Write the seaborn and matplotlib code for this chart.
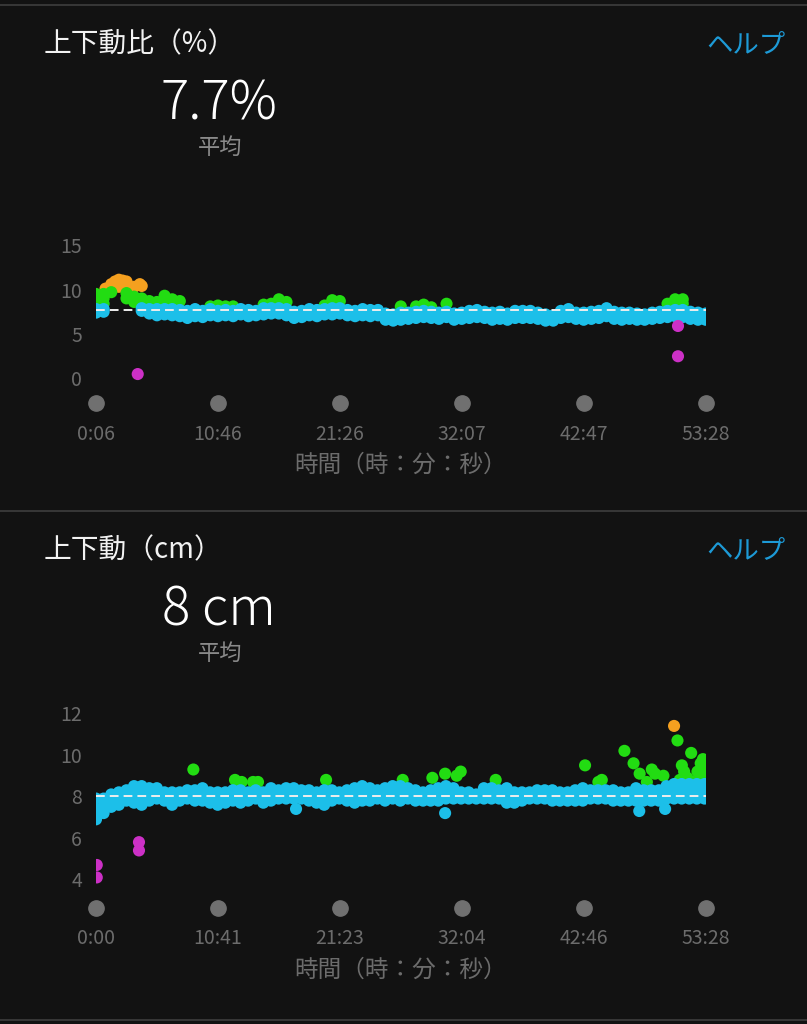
import numpy as np
import pandas as pd
import seaborn as sns
import matplotlib
matplotlib.use("Agg")
import matplotlib.pyplot as plt
from matplotlib.lines import Line2D

# ---- vertical ratio (%) : samples every 40 s from 0:06 ----
ratio_time = [6, 46, 86, 126, 166, 206, 246, 286, 326, 366, 406, 446, 486, 526, 566, 606,
              646, 686, 726, 766, 806, 846, 886, 926, 966, 1006, 1046, 1086, 1126, 1166, 1206,
              1246, 1286, 1326, 1366, 1406, 1446, 1486, 1526, 1566, 1606, 1646, 1686, 1726,
              1766, 1806, 1846, 1886, 1926, 1966, 2006, 2046, 2086, 2126, 2166, 2206, 2246,
              2286, 2326, 2366, 2406, 2446, 2486, 2526, 2566, 2606, 2646, 2686, 2726, 2766,
              2806, 2846, 2886, 2926, 2966, 3006, 3046, 3086, 3126, 3166, 3206]
ratio_lo = [7.4, 7.5, np.nan, np.nan, np.nan, np.nan, 7.6, 7.3, 7.1, 7.2, 7.1, 7.0, 6.8, 7.0,
            6.9, 7.1, 7.0, 7.1, 7.0, 7.2, 7.0, 7.1, 7.2, 7.3, 7.3, 7.1, 6.8, 6.9, 7.1, 7.0,
            7.2, 7.2, 7.3, 7.1, 7.0, 7.1, 7.0, 7.1, 6.6, 6.5, 6.6, 6.7, 6.8, 6.9, 6.8, 6.7,
            6.9, 6.6, 6.7, 6.8, 6.9, 6.8, 6.6, 6.7, 6.6, 6.8, 6.8, 6.8, 6.7, 6.5, 6.5, 6.8,
            6.9, 6.7, 6.6, 6.7, 6.8, 7.0, 6.7, 6.6, 6.7, 6.6, 6.6, 6.7, 6.8, 6.9, 7.0, 6.9,
            6.7, 6.6, 6.6]
ratio_hi = [7.8, 7.8, np.nan, np.nan, np.nan, np.nan, 7.9, 7.8, 7.8, 7.8, 7.8, 7.7, 7.6, 7.8,
            7.6, 7.8, 7.6, 7.7, 7.6, 7.8, 7.7, 7.6, 7.9, 7.9, 7.9, 7.8, 7.5, 7.6, 7.8, 7.7,
            7.8, 7.9, 7.9, 7.7, 7.6, 7.8, 7.7, 7.7, 7.3, 7.2, 7.4, 7.4, 7.5, 7.6, 7.5, 7.4,
            7.5, 7.3, 7.4, 7.6, 7.7, 7.5, 7.4, 7.5, 7.3, 7.6, 7.6, 7.6, 7.4, 7.2, 7.1, 7.6,
            7.8, 7.4, 7.4, 7.5, 7.6, 7.9, 7.5, 7.4, 7.4, 7.3, 7.2, 7.4, 7.5, 7.6, 7.7, 7.7,
            7.5, 7.4, 7.3]
ratio_green_t = [6, 6, 6, 46, 46, 46, 86, 166, 166, 206, 206, 246, 246, 286, 286, 326, 366,
                 366, 406, 446, 606, 646, 686, 726, 886, 926, 966, 1006, 1206, 1246, 1286,
                 1606, 1686, 1726, 1766, 1846, 3006, 3046, 3046, 3086, 3086]
ratio_green_v = [8.4, 9.0, 9.5, 8.4, 9.0, 9.5, 9.7, 9.6, 9.0, 9.2, 8.6, 9.0, 8.4, 8.7, 8.2,
                 8.6, 9.3, 8.6, 8.9, 8.7, 8.1, 8.2, 8.1, 8.1, 8.3, 8.4, 8.9, 8.6, 8.2, 8.8,
                 8.7, 8.1, 8.1, 8.3, 8.0, 8.4, 8.4, 8.9, 8.3, 8.9, 8.4]
ratio_orange_t = [56, 86, 86, 106, 126, 126, 126, 146, 166, 166, 206, 236, 246]
ratio_orange_v = [10.1, 10.6, 10.2, 10.9, 11.1, 10.7, 10.3, 11.0, 10.9, 10.4, 10.3, 10.6, 10.4]
ratio_magenta_t = [225, 3061, 3061]
ratio_magenta_v = [0.5, 5.9, 2.5]
ratio_avg = 7.7

# ---- vertical oscillation (cm) : samples every 40 s from 0:00 ----
vo_time = [0, 40, 80, 120, 160, 200, 240, 280, 320, 360, 400, 440, 480, 520, 560, 600, 640,
           680, 720, 760, 800, 840, 880, 920, 960, 1000, 1040, 1080, 1120, 1160, 1200, 1240,
           1280, 1320, 1360, 1400, 1440, 1480, 1520, 1560, 1600, 1640, 1680, 1720, 1760,
           1800, 1840, 1880, 1920, 1960, 2000, 2040, 2080, 2120, 2160, 2200, 2240, 2280,
           2320, 2360, 2400, 2440, 2480, 2520, 2560, 2600, 2640, 2680, 2720, 2760, 2800,
           2840, 2880, 2920, 2960, 3000, 3040, 3080, 3120, 3160, 3200]
vo_lo = [6.9, 7.2, 7.5, 7.6, 7.8, 7.7, 7.6, 7.8, 7.9, 7.8, 7.6, 7.8, 7.9, 7.8, 7.8, 7.7, 7.6,
         7.7, 7.8, 7.7, 7.8, 7.9, 7.7, 7.8, 7.9, 7.9, 7.9, 7.9, 7.8, 7.7, 7.6, 7.8, 7.9, 7.8,
         7.7, 7.8, 7.8, 7.9, 7.8, 7.9, 7.8, 7.9, 7.8, 7.8, 7.8, 7.8, 7.9, 7.9, 7.9, 7.9, 7.9,
         7.9, 7.9, 7.9, 7.7, 7.7, 7.8, 7.9, 7.9, 7.9, 7.8, 7.8, 7.8, 7.8, 7.8, 7.9, 7.9, 7.9,
         7.8, 7.8, 7.8, 7.8, 7.8, 7.8, 7.8, 7.9, 7.9, 7.9, 7.9, 7.9, 7.9]
vo_mid = [7.4, 7.5, 7.8, 7.9, 8.0, 8.1, 8.0, 8.1, 8.1, 8.0, 7.9, 8.0, 8.1, 8.0, 8.1, 8.0, 7.9,
          8.0, 8.0, 8.0, 8.0, 8.1, 8.0, 8.1, 8.1, 8.1, 8.2, 8.1, 8.0, 8.0, 7.9, 8.0, 8.0, 8.0,
          8.0, 8.1, 8.1, 8.1, 8.1, 8.2, 8.1, 8.1, 8.0, 8.0, 8.0, 8.1, 8.2, 8.1, 8.0, 8.0, 8.0,
          8.1, 8.1, 8.1, 8.0, 8.0, 8.0, 8.1, 8.1, 8.1, 8.0, 8.0, 8.0, 8.0, 8.1, 8.1, 8.1, 8.1,
          8.0, 8.0, 8.0, 8.1, 8.0, 8.0, 8.0, 8.2, 8.3, 8.3, 8.3, 8.3, 8.3]
vo_hi = [7.9, 7.9, 8.1, 8.2, 8.3, 8.5, 8.5, 8.4, 8.4, 8.2, 8.2, 8.2, 8.3, 8.3, 8.4, 8.2, 8.2,
         8.2, 8.3, 8.3, 8.2, 8.3, 8.2, 8.4, 8.3, 8.4, 8.4, 8.3, 8.3, 8.2, 8.3, 8.3, 8.2, 8.3,
         8.4, 8.5, 8.4, 8.3, 8.4, 8.5, 8.5, 8.4, 8.3, 8.2, 8.3, 8.4, 8.5, 8.4, 8.2, 8.2, 8.1,
         8.4, 8.4, 8.3, 8.4, 8.2, 8.2, 8.2, 8.3, 8.3, 8.3, 8.2, 8.2, 8.3, 8.4, 8.3, 8.3, 8.3,
         8.3, 8.2, 8.2, 8.4, 8.3, 8.3, 8.3, 8.5, 8.6, 8.6, 8.6, 8.6, 8.6]
vo_blue_extra_t = [1052, 1836, 2857, 2993]
vo_blue_extra_v = [7.4, 7.2, 7.3, 7.4]
vo_green_t = [512, 731, 766, 826, 852, 1210, 1613, 1769, 1836, 1897, 1918, 2102, 2572, 2642,
              2660, 2779, 2827, 2859, 2897, 2923, 2940, 2984, 3058, 3070, 3081, 3093, 3110,
              3130, 3140, 3163, 3180, 3185, 3192, 3200, 3200]
vo_green_v = [9.3, 8.8, 8.7, 8.7, 8.7, 8.8, 8.8, 8.9, 9.1, 9.0, 9.2, 8.8, 9.5, 8.7, 8.8, 10.2,
              9.6, 9.1, 8.7, 9.3, 9.1, 9.0, 10.7, 8.8, 9.5, 9.2, 8.9, 10.1, 8.7, 9.2, 9.6, 8.9,
              9.8, 9.2, 8.8]
vo_orange_t = [3040]
vo_orange_v = [11.4]
vo_magenta_t = [4, 4, 226, 226]
vo_magenta_v = [4.7, 4.1, 5.8, 5.4]
vo_avg = 8.0

ratio_xticks = [6, 646, 1286, 1927, 2567, 3208]
ratio_xlabels = ["0:06", "10:46", "21:26", "32:07", "42:47", "53:28"]
vo_xticks = [0, 641, 1283, 1924, 2566, 3208]
vo_xlabels = ["0:00", "10:41", "21:23", "32:04", "42:46", "53:28"]

BG = "#121212"
ZONE_COLORS = {"orange": "#f5a01f", "green": "#22dc12", "blue": "#1cbfe9", "magenta": "#cc30c6"}
GREY = "#6c6c6c"
W, H = 807, 1024

sns.set_theme(style="dark", rc={"axes.facecolor": BG, "figure.facecolor": BG})
plt.rcParams["font.family"] = ["Noto Sans CJK JP", "DejaVu Sans"]


def zone_frame(blue, green, orange, magenta):
    parts = []
    for zone, (t, v) in [("orange", orange), ("green", green), ("blue", blue), ("magenta", magenta)]:
        parts.append(pd.DataFrame({"t": t, "v": v, "zone": zone}))
    return pd.concat(parts, ignore_index=True).dropna()


def add_axes_px(fig, left, top, right, bottom):
    return fig.add_axes([left / W, 1 - bottom / H, (right - left) / W, (bottom - top) / H])


def draw_panel(ax, df, avg, xlim, ylim, yticks, xticks, xlabels, dot_y, tick_pad, label_pad):
    sns.scatterplot(data=df, x="t", y="v", hue="zone", palette=ZONE_COLORS, s=76,
                    linewidth=0, legend=False, ax=ax, zorder=3)
    ax.axhline(avg, color="#eeeeee", lw=1.4, dashes=(4.5, 2.6), zorder=5)
    ax.set_xlim(*xlim)
    ax.set_ylim(*ylim)
    ax.set_yticks(yticks)
    ax.set_xticks(xticks, labels=xlabels)
    ax.tick_params(axis="y", length=0, pad=10, labelsize=14, labelcolor=GREY)
    ax.tick_params(axis="x", length=0, pad=tick_pad, labelsize=14, labelcolor=GREY)
    ax.plot(xticks, [dot_y] * len(xticks), "o", ms=11, color="#707070",
            transform=ax.get_xaxis_transform(), clip_on=False)
    ax.set_xlabel("時間（時：分：秒）", fontsize=17, color=GREY, labelpad=label_pad)
    ax.set_ylabel("")
    ax.grid(False)
    for s in ax.spines.values():
        s.set_visible(False)


fig = plt.figure(figsize=(W / 100, H / 100), dpi=100)

# separators
for y in [4.5, 510.5, 1019.5]:
    fig.add_artist(Line2D([0, 1], [1 - y / H, 1 - y / H], color="#3e3e3e", lw=1.2))

# panel 1
ax1 = add_axes_px(fig, 96, 236.1, 706, 391.85)
df1 = zone_frame((ratio_time + ratio_time, ratio_lo + ratio_hi),
                 (ratio_green_t, ratio_green_v),
                 (ratio_orange_t, ratio_orange_v),
                 (ratio_magenta_t, ratio_magenta_v))
draw_panel(ax1, df1, ratio_avg, (6, 3208), (-1.5, 16), [0, 5, 10, 15],
           ratio_xticks, ratio_xlabels, -11.2 / 155.75, 23.3, 6)

# panel 2
ax2 = add_axes_px(fig, 96, 703.1, 706, 891.95)
df2 = zone_frame((vo_time * 3 + vo_blue_extra_t, vo_lo + vo_mid + vo_hi + vo_blue_extra_v),
                 (vo_green_t, vo_green_v),
                 (vo_orange_t, vo_orange_v),
                 (vo_magenta_t, vo_magenta_v))
draw_panel(ax2, df2, vo_avg, (0, 3208), (3.4, 12.5), [4, 6, 8, 10, 12],
           vo_xticks, vo_xlabels, -16 / 188.85, 26, 7.3)

# header texts
for top, title, value in [(0, "上下動比（%）", "7.7%"), (506, "上下動（cm）", "8 cm")]:
    fig.text(44 / W, 1 - (top + 44) / H, title, fontsize=20, color="#f2f2f2",
             ha="left", va="center")
    fig.text(785 / W, 1 - (top + 45) / H, "ヘルプ", fontsize=19, color="#1d9ad6",
             ha="right", va="center")
    fig.text(219 / W, 1 - (top + 105) / H, value, fontsize=38, color="#ffffff",
             ha="center", va="center", fontweight="light")
    fig.text(220 / W, 1 - (top + 147) / H, "平均", fontsize=16, color="#8a8a8a",
             ha="center", va="center")

fig.savefig("out.png", dpi=100, facecolor=BG)
